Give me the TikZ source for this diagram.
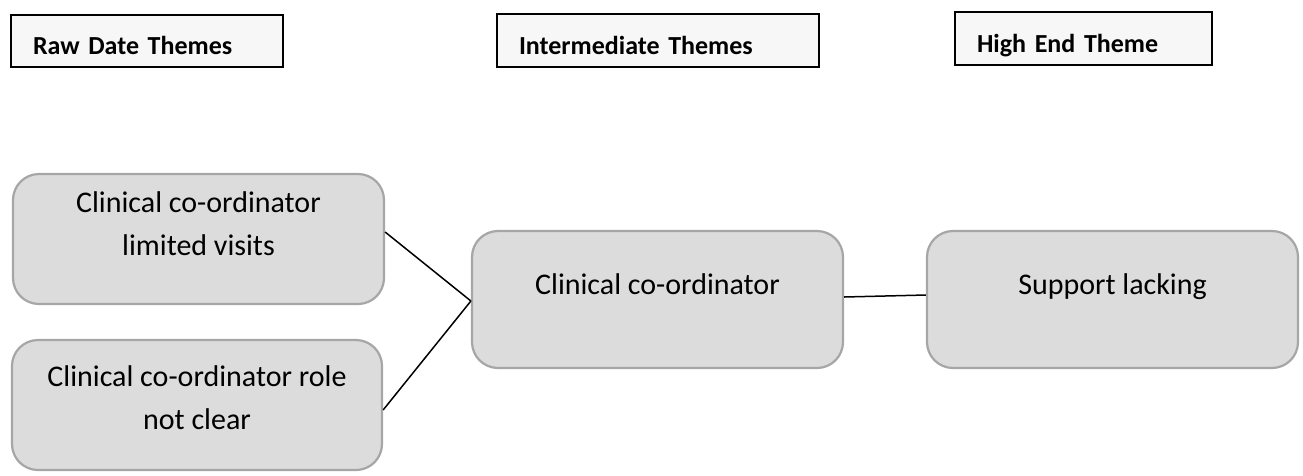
\documentclass[tikz,border=0pt]{standalone}
\usepackage{fontspec}
\setmainfont{Carlito}
\usepackage{tikz}
\definecolor{boxgrau}{RGB}{220,220,220}
\definecolor{randgrau}{RGB}{166,166,166}
\definecolor{kopfgrau}{RGB}{247,247,247}

\begin{document}
\begin{tikzpicture}[x=1pt,y=-1pt,
  kopf/.style={draw=black, line width=1.6pt, fill=kopfgrau, align=left,
    font=\bfseries\fontsize{26}{30}\selectfont,
    inner xsep=22pt, inner ysep=0pt, text height=27pt, text depth=0pt},
  thema/.style={draw=randgrau, fill=boxgrau, line width=2.2pt, rounded corners=26pt},
  beschr/.style={font=\fontsize{30}{43}\selectfont, align=center, inner sep=0pt},
  verbinder/.style={draw=black, line width=1.5pt}]
\useasboundingbox (0,0) rectangle (1303,475);

%Ueberschriften
\node[kopf, text width=228pt, minimum height=52pt] (raw) at (147,41) {Raw Date Themes};
\node[kopf, text width=278pt, minimum height=53pt] (inter) at (658,40.5) {Intermediate Themes};
\node[kopf, text width=213pt, minimum height=53pt] (high) at (1083.5,38.5) {High End Theme};

%Kaesten
\node[thema, minimum width=371pt, minimum height=130pt] (A) at (198.5,239) {};
\node[thema, minimum width=370pt, minimum height=130pt] (B) at (197,405) {};
\node[thema, minimum width=371pt, minimum height=137pt] (C) at (657.5,299.5) {};
\node[thema, minimum width=371pt, minimum height=137pt] (D) at (1112.5,299.5) {};

\node[beschr] (Atext) at (198.5,224) {Clinical co-ordinator\\limited visits};
\node[beschr] (Btext) at (197,397.5) {Clinical co-ordinator role\\not clear};
\node[beschr] (Ctext) at (657.5,284) {Clinical co-ordinator};
\node[beschr] (Dtext) at (1112.5,287) {Support lacking};

%Verbindungen
\path[verbinder]
([yshift=7pt]A.east) edge ([yshift=-1.5pt]C.west);
\path[verbinder]
([yshift=-5pt]B.east) edge ([yshift=-1.5pt]C.west);
\path[verbinder]
([yshift=2.5pt]C.east) edge ([yshift=4.5pt]D.west);
\end{tikzpicture}
\end{document}
